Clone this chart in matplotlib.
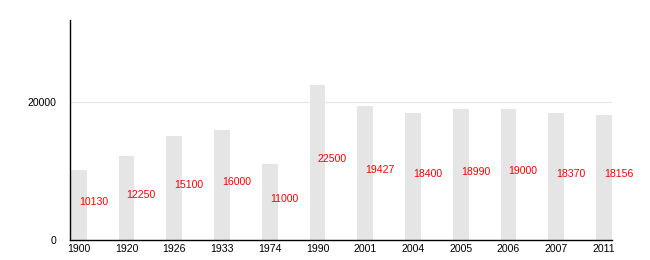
import numpy as np
import matplotlib
matplotlib.use("Agg")
from matplotlib import pyplot as plt

years = ["1900", "1920", "1926", "1933", "1974", "1990", "2001", "2004", "2005", "2006", "2007", "2011"]
population = [10130, 12250, 15100, 16000, 11000, 22500, 19427, 18400, 18990, 19000, 18370, 18156]

plt.rcParams["font.family"] = ["Liberation Sans", "DejaVu Sans"]

fig = plt.figure(figsize=(6.5, 2.6), dpi=100)
ax = fig.add_axes([70 / 650, 20 / 260, 542 / 650, 220 / 260])

x = np.arange(len(years))
width = 0.33
ax.bar(x, population, width=width, align="edge", color="#e5e5e5", zorder=2)

# etiquetas de valor a media altura
for xi, v in zip(x, population):
    ax.text(xi + width / 2, v / 2, str(v), color="#ff0000", fontsize=7.6,
            ha="left", va="baseline", zorder=3)

ax.set_xlim(-0.02, len(years) - 1 + width)
ax.set_ylim(0, 31900)
ax.set_xticks(x + width / 2)
ax.set_xticklabels(years)
ax.set_yticks([0, 20000])
ax.set_yticklabels(["0", "20000"])
ax.tick_params(length=0, labelsize=7.6, pad=3)
ax.tick_params(axis="y", pad=10)
ax.axhline(20000, color="#e6e6e6", lw=0.8, zorder=1)

for side in ("top", "right"):
    ax.spines[side].set_visible(False)
ax.spines["left"].set_linewidth(1)
ax.spines["bottom"].set_linewidth(1)

fig.savefig("out.png", dpi=100)
